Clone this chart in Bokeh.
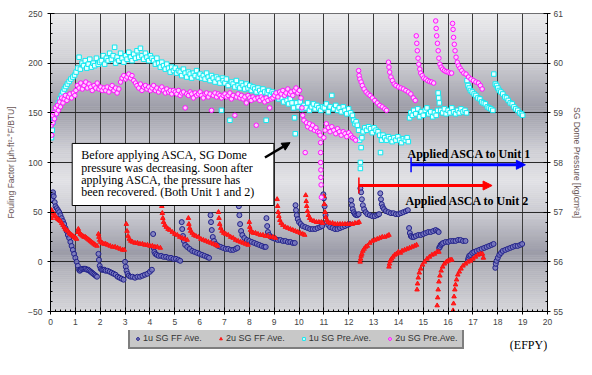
import numpy as np
from bokeh.plotting import figure
from bokeh.layouts import column
from bokeh.models import (Range1d, LinearAxis, SingleIntervalTicker, Legend, LegendItem,
                          Label, BoxAnnotation, Arrow, NormalHead, TeeHead)
from bokeh.embed import file_html
from bokeh.resources import INLINE

# ---------------- data ----------------
# 1u SG FF Ave.  (x = EFPY, y = fouling factor)
u1_ff_x = [0.05,0.08,0.1,0.13,0.17,0.2,0.25,0.3,0.35,0.4,0.45,0.5,0.55,0.6,0.65,0.7,0.75,0.8,0.85,0.9,0.95,1.0,1.05,1.1,1.15,
           1.18,1.22,1.27,1.32,1.37,1.42,1.47,1.52,1.57,1.62,1.67,1.72,1.77,1.82,1.87,
           1.93,1.95,1.98,2.02,2.07,2.12,2.17,2.22,2.3,2.38,2.46,2.54,2.62,2.7,2.78,2.86,2.94,
           3.0,3.03,3.06,3.1,3.15,3.22,3.3,3.4,3.5,3.6,3.7,3.8,3.9,4.0,4.08,
           4.13,4.15,4.18,4.22,4.28,4.35,4.45,4.55,4.65,4.75,4.85,4.95,5.05,5.15,5.22,
           5.28,5.3,5.33,5.37,5.42,5.5,5.6,5.7,5.8,5.9,6.0,6.1,6.2,6.3,6.38,
           6.44,6.46,6.49,6.53,6.58,6.65,6.75,6.85,6.95,7.05,7.15,7.25,7.35,7.45,7.52,
           7.58,7.6,7.63,7.67,7.72,7.8,7.9,8.0,8.1,8.2,8.3,8.4,8.5,8.6,8.66,
           8.69,8.72,8.75,8.8,8.87,8.95,9.05,9.15,9.25,9.35,9.45,9.55,9.65,9.75,9.83,
           9.86,9.88,9.91,9.95,10.0,10.07,10.15,10.25,10.35,10.45,10.55,10.65,10.75,10.85,10.93,
           10.98,11.0,11.03,11.07,11.12,11.18,11.25,11.35,11.45,11.55,11.65,11.75,11.85,11.95,12.03,
           12.1,12.13,12.16,12.2,12.25,12.3,12.35,12.4,
           12.47,12.5,12.53,12.57,12.62,12.68,12.75,12.85,12.95,13.05,13.15,13.22,
           13.27,13.3,13.33,13.37,13.42,13.5,13.6,13.7,13.8,13.9,14.0,14.1,14.2,14.3,14.38,
           14.43,14.46,14.5,14.55,14.62,14.7,14.8,14.9,15.0,15.1,15.2,15.3,15.4,15.5,15.57,
           15.62,15.64,15.67,15.7,15.75,15.8,15.9,16.0,16.1,16.2,16.3,16.4,16.5,16.6,16.7,
           16.8,16.82,16.85,16.9,16.97,17.05,17.15,17.25,17.35,17.45,17.55,17.65,17.75,17.83,
           17.9,17.92,17.95,18.0,18.06,18.13,18.2,18.3,18.4,18.5,18.6,18.7,18.8,18.9,18.98]
u1_ff_y = [63,68,70,66,60,56,54,52,50,47,44,41,38,34,31,27,24,20,16,12,8,4,0,-4,-8,
           -9,-8,-7,-7,-7,-7,-8,-8,-9,-10,-11,-12,-13,-14,-15,
           8,2,-4,-7,-8,-8,-8,-9,-9,-10,-11,-12,-13,-15,-16,-17,-18,
           0,-5,-9,-12,-14,-15,-15,-16,-15,-15,-14,-13,-12,-10,-8,
           28,14,10,8,7,6,6,5,5,4,4,3,3,2,1,
           40,33,26,21,17,15,13,11,10,9,8,7,6,5,4,
           47,40,32,25,21,18,16,15,14,13,13,12,12,13,14,
           56,47,38,31,27,24,22,21,20,19,18,17,16,15,15,
           44,36,30,27,25,24,23,22,22,21,21,20,20,19,19,
           57,52,47,43,40,38,36,35,34,33,33,33,34,35,36,
           68,64,56,47,40,37,35,34,33,33,34,35,36,37,38,
           62,57,53,50,48,47,47,48,
           74,70,63,57,53,50,48,47,46,46,47,48,
           69,63,58,55,53,51,50,49,49,48,48,49,50,51,52,
           34,29,26,25,25,26,27,27,28,29,30,30,31,32,31,
           30,14,15,17,18,19,20,20,21,21,21,22,22,21,21,
           2,4,6,7,9,10,11,12,13,14,15,16,17,18,
           -6,-2,1,4,7,9,11,12,13,14,15,16,16,17,18]

# 2u SG FF Ave.
u2_ff_x = [0.03,0.05,0.08,0.12,0.16,0.2,0.25,0.3,0.35,0.4,0.45,0.5,0.55,0.6,0.65,0.7,0.75,0.8,0.85,0.9,0.95,1.0,1.05,
           1.1,1.12,1.15,1.2,1.25,1.3,1.35,1.4,1.45,1.5,1.55,1.6,1.65,1.7,1.75,1.8,1.87,
           1.93,1.95,1.98,2.02,2.08,2.15,2.22,2.3,2.4,2.5,2.6,2.7,2.8,2.9,2.97,
           3.05,3.08,3.12,3.17,3.23,3.3,3.4,3.5,3.6,3.7,3.8,3.9,4.0,4.1,4.2,4.3,4.42,
           4.48,4.5,4.52,4.55,4.6,4.66,4.73,4.8,4.9,5.0,5.1,5.2,5.3,5.4,5.5,
           5.55,5.57,5.6,5.64,5.7,5.77,5.85,5.95,6.05,6.15,6.25,6.35,6.45,6.55,6.65,6.72,
           6.76,6.78,6.81,6.85,6.9,6.97,7.05,7.15,7.25,7.35,7.45,7.55,7.65,7.75,7.85,7.95,
           8.0,8.02,8.05,8.1,8.17,8.25,8.35,8.45,8.55,8.65,8.75,8.85,8.95,9.05,
           9.12,9.14,9.16,9.19,9.23,9.28,9.35,9.45,9.55,9.65,9.75,9.85,9.95,10.05,10.15,10.23,
           10.27,10.29,10.31,10.34,10.38,10.43,10.5,10.6,10.7,10.8,10.9,10.95,
           11.0,11.02,11.05,11.08,11.12,11.17,11.25,11.35,11.45,11.55,11.65,11.75,11.85,11.95,12.05,12.15,12.25,12.35,12.42,
           12.46,12.48,12.5,12.53,12.57,12.62,12.68,12.75,12.85,12.95,13.05,13.15,13.25,13.35,13.45,13.55,13.62,
           13.62,13.64,13.67,13.72,13.78,13.85,13.92,14.0,14.08,14.15,14.25,14.35,14.45,14.55,14.65,14.73,
           14.75,14.77,14.8,14.84,14.9,14.97,15.05,15.15,15.25,15.35,15.45,15.55,15.63,
           15.56,15.58,15.6,15.63,15.67,15.72,15.78,15.85,15.93,16.0,16.08,16.15,
           16.2,16.22,16.24,16.27,16.3,16.34,16.39,16.45,16.52,16.6,16.7,16.8,16.9,17.0,17.1,17.2,17.3,17.38,17.42]
u2_ff_y = [44,52,50,49,47,46,44,43,42,41,39,37,35,33,32,31,29,28,27,26,25,24,23,
           30,33,30,28,27,26,25,25,24,23,22,21,20,19,18,17,16,
           28,25,22,20,19,18,18,17,16,15,15,14,13,12,12,
           38,31,26,23,21,20,19,19,18,18,17,17,16,16,15,15,14,
           56,49,44,40,37,35,33,32,30,28,27,25,24,23,22,
           44,38,34,31,29,27,26,25,23,22,21,20,19,18,17,16,
           50,44,38,34,31,29,28,27,25,24,22,21,20,19,18,17,
           40,35,32,30,29,29,28,27,27,26,26,25,25,24,
           63,56,50,46,42,39,37,35,34,33,32,31,30,29,28,27,
           67,61,56,51,47,44,42,41,40,40,40,39,
           66,58,50,45,42,40,39,39,38,38,38,38,38,38,38,38,39,39,40,
           0,3,6,8,11,13,15,16,19,21,22,23,24,25,25,26,27,
           -5,-2,1,3,5,7,8,10,9,11,12,13,14,15,16,17,
           -28,-22,-16,-11,-7,-3,0,3,5,7,8,10,10,
           -44,-36,-28,-20,-14,-9,-5,-2,0,1,2,2,
           -49,-42,-35,-28,-23,-18,-13,-10,-7,-4,-2,0,1,3,5,7,8,8,4]

# 1u SG Pre.Ave.  (right axis, kg/cm2a)
u1_pre_x = [0.04,0.07,0.1,0.14,0.18,0.22,0.27,0.32,0.38,0.44,0.5,0.56,0.62,0.68,0.75,0.82,0.9,0.97,
            1.03,1.1,1.15,1.2,1.27,1.33,1.4,1.46,1.52,1.58,1.65,1.72,1.78,1.85,1.92,1.98,
            2.05,2.12,2.18,2.25,2.32,2.38,2.45,2.52,2.58,2.62,2.68,2.75,2.82,2.88,2.95,
            3.02,3.08,3.15,3.22,3.28,3.35,3.42,3.48,3.55,3.62,3.68,3.75,3.82,3.88,3.95,4.02,4.08,
            4.15,4.22,4.28,4.35,4.42,4.48,4.55,4.62,4.68,4.75,4.82,4.88,4.95,5.02,5.08,5.15,
            5.22,5.28,5.35,5.42,5.48,5.55,5.62,5.68,5.75,5.82,5.88,5.95,6.02,6.08,
            6.15,6.22,6.28,6.35,6.42,6.48,6.55,6.62,6.68,6.75,6.82,6.88,6.92,6.95,
            7.02,7.08,7.15,7.22,7.28,7.35,7.42,7.48,7.55,7.62,7.68,7.75,7.82,7.88,7.95,
            8.02,8.08,8.15,8.22,8.28,8.35,8.42,8.48,8.55,8.62,8.68,8.72,8.78,8.85,8.92,8.98,
            9.05,9.12,9.18,9.25,9.32,9.38,9.45,9.52,9.58,9.65,9.72,9.78,9.82,9.85,
            9.9,9.97,10.05,10.12,10.2,10.28,10.35,10.42,10.5,10.58,10.65,10.72,10.8,10.88,10.95,11.02,
            11.1,11.18,11.25,11.32,11.4,11.48,11.55,11.62,11.7,11.78,11.85,11.92,12.0,12.08,12.15,
            12.2,12.25,12.3,12.35,12.4,12.44,12.47,12.47,12.5,12.53,
            12.58,12.65,12.72,12.8,12.88,12.95,13.02,13.1,13.18,13.25,
            13.28,13.32,13.38,13.45,13.52,13.6,13.68,13.75,13.82,13.9,13.98,14.05,14.12,14.2,14.28,14.35,14.4,
            14.45,14.5,14.56,14.62,14.7,14.78,14.85,14.92,15.0,15.08,15.15,15.22,15.3,15.38,15.45,15.52,15.58,
            15.6,15.62,15.65,15.7,15.78,15.85,15.92,16.0,16.08,16.15,16.22,16.3,16.38,16.45,16.52,16.6,16.68,16.74,
            16.76,16.8,16.85,16.9,16.97,17.05,17.12,17.2,17.28,17.35,17.42,17.5,17.58,17.65,17.72,17.8,
            17.84,17.9,17.95,18.0,18.06,18.12,18.2,18.28,18.35,18.42,18.5,18.58,18.65,18.72,18.8,18.88,18.95,19.0]
u1_pre_y = [58.5,58.65,58.8,58.9,58.98,59.05,59.12,59.2,59.28,59.35,59.42,59.48,59.53,59.58,59.63,59.68,59.72,59.76,
            59.82,59.9,60.12,59.88,60.0,59.95,60.05,59.9,59.98,60.08,59.92,60.0,59.95,60.1,59.98,60.02,
            60.05,60.15,59.98,60.1,60.05,60.2,60.08,60.15,60.32,60.0,60.12,60.05,60.2,60.1,60.02,
            60.15,60.08,60.22,60.12,60.05,60.18,60.1,60.25,60.12,60.3,60.15,60.08,60.2,60.12,60.05,60.15,60.1,
            60.05,59.98,60.1,60.0,59.92,60.02,59.95,59.88,59.98,59.9,59.82,59.92,59.85,59.9,59.8,59.85,
            59.82,59.75,59.88,59.8,59.72,59.82,59.78,59.7,59.8,59.75,59.85,59.72,59.78,59.7,
            59.75,59.68,59.8,59.72,59.65,59.75,59.7,59.62,59.72,59.68,59.6,59.05,59.7,59.65,
            59.6,59.68,59.55,58.85,59.62,59.58,59.52,59.65,59.55,59.5,59.6,59.55,59.48,59.58,59.5,
            59.55,59.45,59.52,59.48,59.42,59.5,59.45,59.38,59.48,59.42,58.85,59.4,59.45,59.35,59.42,59.38,
            59.35,59.4,59.28,59.35,59.3,59.22,59.32,59.25,59.18,59.28,59.2,59.1,58.9,58.58,
            59.2,59.12,59.22,59.08,59.15,59.1,59.2,59.05,59.12,59.18,59.08,59.15,59.1,59.05,59.12,59.1,
            59.18,59.02,59.12,59.35,59.08,59.15,59.05,59.1,59.02,59.12,59.05,58.98,59.08,59.0,58.95,
            58.85,58.78,58.82,58.75,58.65,58.45,58.0,57.88,58.3,58.5,
            58.62,58.7,58.65,58.72,58.68,58.6,58.7,58.65,58.62,58.55,
            58.2,58.45,58.55,58.5,58.45,58.52,58.48,58.42,58.5,58.45,58.52,58.45,58.4,58.48,58.45,58.5,58.42,
            58.9,59.0,58.95,59.05,58.98,59.08,58.92,59.02,58.95,59.05,59.1,58.98,59.02,58.92,59.0,58.95,59.05,
            59.4,59.3,59.2,59.05,59.0,59.08,58.98,59.05,59.0,59.1,59.02,58.98,59.05,59.0,59.08,59.02,59.05,59.0,
            59.65,59.55,59.5,59.45,59.42,59.38,59.35,59.3,59.28,59.22,59.2,59.18,59.12,59.1,59.08,59.05,
            59.78,59.58,59.55,59.5,59.45,59.42,59.38,59.32,59.3,59.25,59.2,59.18,59.12,59.08,59.05,59.0,58.98,58.95]

# 2u SG Pre.Ave.
u2_pre_x = [0.03,0.05,0.08,0.1,0.13,0.16,0.2,0.24,0.28,0.32,0.36,0.4,0.45,0.5,0.55,0.6,0.66,0.72,0.78,0.85,0.92,0.98,
            1.02,1.08,1.15,1.22,1.28,1.35,1.42,1.48,1.55,1.62,1.68,1.75,1.82,1.88,1.95,2.02,2.08,
            2.15,2.22,2.28,2.35,2.42,2.48,2.55,2.62,2.68,2.75,
            2.82,2.88,2.95,3.02,3.08,3.15,3.22,3.28,3.35,3.42,
            3.48,3.55,3.62,3.68,3.75,3.82,3.88,3.95,4.02,4.08,4.15,4.22,4.28,4.35,4.42,4.48,4.55,4.62,4.68,4.75,4.82,4.88,4.95,
            5.02,5.08,5.15,5.22,5.28,5.35,5.42,5.48,5.55,5.62,5.68,5.75,5.82,5.88,5.95,6.02,6.08,6.15,6.22,6.28,
            6.35,6.42,6.48,6.55,6.62,6.68,6.75,6.82,6.88,6.95,
            7.02,7.08,7.15,7.22,7.28,7.35,7.42,7.48,7.55,7.62,7.68,7.75,7.82,7.88,7.95,8.02,8.08,8.15,8.22,8.28,
            8.35,8.42,8.48,8.55,8.62,8.68,8.75,8.82,8.88,8.95,
            9.02,9.08,9.15,9.22,9.28,9.35,9.42,9.48,9.55,9.62,9.68,9.75,9.82,9.88,9.95,10.02,10.08,
            10.12,10.15,10.2,10.25,10.3,10.35,10.42,10.48,10.55,10.62,10.68,10.75,10.82,10.85,
            10.87,10.87,10.87,10.88,10.88,10.89,10.9,
            11.0,11.05,11.1,11.18,11.25,11.32,11.4,11.48,11.55,11.62,11.7,11.78,11.85,11.92,12.0,12.08,12.15,12.22,12.28,
            12.4,12.42,12.45,12.5,12.55,12.62,12.7,12.78,12.86,12.95,13.05,13.15,13.25,13.35,13.45,13.52,
            13.6,13.62,13.65,13.7,13.76,13.83,13.9,14.0,14.1,14.2,14.3,14.4,14.5,14.6,14.68,
            14.72,14.74,14.76,14.79,14.82,14.86,14.9,14.96,15.02,15.1,15.18,15.26,15.34,15.42,
            15.5,15.52,15.54,15.57,15.6,15.63,15.67,15.72,15.78,15.85,15.92,16.0,16.08,16.14,
            16.18,16.2,16.22,16.25,16.28,16.32,16.37,16.42,16.48,16.55,16.63,16.72,16.82,16.92,17.02,17.12,17.22,17.3,17.37]
u2_pre_y = [58.75,58.55,58.95,58.8,59.0,58.88,59.1,58.98,59.15,59.05,59.22,59.12,59.3,59.2,59.28,59.35,59.25,59.32,59.38,59.3,59.4,59.35,
            59.45,59.55,59.5,59.6,59.48,59.55,59.62,59.5,59.58,59.52,59.45,59.55,59.5,59.6,59.48,59.52,59.45,
            59.5,59.45,59.52,59.42,59.5,59.55,59.45,59.5,59.4,59.48,
            59.62,59.7,59.75,59.68,59.72,59.78,59.7,59.75,59.65,59.6,
            59.55,59.5,59.58,59.45,59.52,59.55,59.48,59.52,59.45,59.5,59.55,59.45,59.5,59.42,59.48,59.52,59.45,59.4,59.48,59.42,59.45,59.38,59.45,
            59.42,59.38,59.45,59.35,59.4,59.42,59.1,59.38,59.35,59.42,59.38,59.3,59.4,59.35,59.38,59.42,59.35,59.3,59.38,59.4,
            59.32,59.38,59.05,59.35,59.4,59.32,59.38,59.35,59.3,59.35,
            59.38,59.32,59.35,59.4,59.28,59.35,58.95,59.32,59.38,59.3,59.35,59.28,59.32,59.2,59.35,59.3,59.25,59.32,59.28,58.75,
            59.3,59.25,59.32,59.28,59.22,59.3,59.25,59.1,59.28,59.3,
            59.35,59.4,59.32,59.42,59.38,59.45,59.35,59.4,59.48,59.38,59.42,59.35,59.45,59.5,59.4,59.45,59.3,
            59.1,58.95,58.85,58.2,58.8,58.72,58.78,58.68,58.75,58.65,58.7,58.62,58.6,58.55,
            58.4,58.2,58.0,57.85,57.7,57.55,57.3,
            58.5,58.65,58.78,58.7,58.62,58.72,58.65,58.58,58.68,58.62,58.55,58.62,58.58,58.52,58.6,58.55,58.5,58.48,58.45,
            59.85,59.75,59.68,59.62,59.55,59.48,59.42,59.38,59.35,59.3,59.25,59.2,59.15,59.12,59.08,59.05,
            60.02,59.92,59.82,59.72,59.65,59.58,59.55,59.52,59.5,59.48,59.45,59.42,59.38,59.3,59.25,
            60.55,60.4,60.25,60.1,59.98,59.88,59.8,59.75,59.7,59.68,59.65,59.63,59.62,59.6,
            60.85,60.7,60.55,60.4,60.25,60.1,59.98,59.92,59.88,59.85,59.83,59.82,59.8,59.8,
            60.8,60.68,60.52,60.38,60.25,60.12,60.02,59.95,59.9,59.85,59.8,59.78,59.72,59.68,59.65,59.62,59.6,59.55,59.48]

series_names = ["1u SG FF Ave.", "2u SG FF Ave.", "1u SG Pre.Ave.", "2u SG Pre.Ave."]
note_lines = ["Before applying ASCA, SG Dome",
              "pressure was decreasing. Soon after",
              "applying ASCA, the pressure has",
              "been recovered. (Both Unit 1 and 2)"]

for a, b in [(u1_ff_x, u1_ff_y), (u2_ff_x, u2_ff_y), (u1_pre_x, u1_pre_y), (u2_pre_x, u2_pre_y)]:
    assert len(a) == len(b), (len(a), len(b))

# ---------------- styles ----------------
SANS = "Liberation Sans"
SERIF = "Liberation Serif"
styles = [dict(marker="circle", size=5, line_color="#22228a", fill_color="#7a7ac2", fill_alpha=0.8, line_width=1),
          dict(marker="triangle", size=4.5, line_color="#ff1010", fill_color="#ff2020", line_width=1),
          dict(marker="square", size=4.5, line_color="#10e8f0", fill_color="#e8ffff", line_width=1),
          dict(marker="circle", size=4.5, line_color="#ff10ff", fill_color="#ffc8ff", line_width=1)]

# ---------------- main figure ----------------
p = figure(width=592, height=330, x_range=Range1d(0, 20), y_range=Range1d(-50, 250),
           output_backend="svg", toolbar_location=None,
           min_border_left=50, min_border_right=45, min_border_top=13, min_border_bottom=19)
p.extra_y_ranges = {"p": Range1d(55, 61)}
p.border_fill_color = "white"
p.outline_line_color = "black"
p.outline_line_width = 1

# metallic background of the plot area (vertical colour gradient)
bg_stops = [-50, -8.7, 9.4, 46.7, 81.9, 112.1, 154.4, 202.7, 250]
bg_cols = ["#d6d6da", "#b5b5bd", "#9c9ca8", "#c8c8cf", "#e2e2e6", "#cfcfd5", "#9d9da8", "#cfcfd4", "#ececee"]
rgb = np.array([[int(c[i:i + 2], 16) for i in (1, 3, 5)] for c in bg_cols], float)
edges = np.linspace(-50, 250, 151)
mids = (edges[:-1] + edges[1:]) / 2
cols = ["#%02x%02x%02x" % tuple(int(round(np.interp(m, bg_stops, rgb[:, k]))) for k in range(3)) for m in mids]
p.quad(left=0, right=20, bottom=edges[:-1], top=edges[1:], fill_color=cols, line_color=cols,
       line_width=0.6, level="image")

# grids
p.xgrid.ticker = SingleIntervalTicker(interval=1)
p.ygrid.ticker = SingleIntervalTicker(interval=50)
p.xgrid.grid_line_color = "#3c3c3c"
p.ygrid.grid_line_color = "#2a2a2a"
p.grid.grid_line_width = 1

# axes
p.xaxis.ticker = SingleIntervalTicker(interval=1, num_minor_ticks=5)
p.yaxis.ticker = SingleIntervalTicker(interval=50, num_minor_ticks=5)
p.yaxis.axis_label = "Fouling Factor [\u03bch-ft\u00b2-\u00b0F/BTU]"
right = LinearAxis(y_range_name="p", ticker=SingleIntervalTicker(interval=1, num_minor_ticks=5),
                   axis_label="SG Dome Pressure [kg/cm\u00b2a]")
p.add_layout(right, "right")

for ax in [p.xaxis[0], p.yaxis[0], right]:
    ax.axis_line_color = "black"
    ax.major_tick_line_color = "black"
    ax.minor_tick_line_color = "black"
    ax.major_tick_in = 4
    ax.major_tick_out = 3
    ax.minor_tick_in = 2
    ax.minor_tick_out = 0
    ax.major_label_text_font = SANS
    ax.major_label_text_font_size = "8.5px"
    ax.major_label_text_color = "#444444"
    ax.axis_label_text_font = SANS
    ax.axis_label_text_font_size = "8.5px"
    ax.axis_label_text_font_style = "normal"
    ax.axis_label_text_color = "#6a5656"
p.xaxis.major_label_standoff = 4
p.yaxis.major_label_standoff = 5
p.yaxis.axis_label_standoff = 9
right.major_label_standoff = 3
right.axis_label_standoff = 6

# series
p.scatter(u1_ff_x, u1_ff_y, **styles[0])
p.scatter(u2_ff_x, u2_ff_y, **styles[1])
p.scatter(u1_pre_x, u1_pre_y, y_range_name="p", **styles[2])
p.scatter(u2_pre_x, u2_pre_y, y_range_name="p", **styles[3])

# text box with note
p.add_layout(BoxAnnotation(left=0.873, right=8.99, bottom=56.7, top=119.2, fill_color="white",
                           fill_alpha=1, line_color="black", line_width=1, line_alpha=1))
for i, t in enumerate(note_lines):
    p.add_layout(Label(x=1.237, y=107.1 - 12.4 * i, text=t, text_font=SERIF, text_font_size="12px",
                       text_color="black", text_baseline="middle", text_align="left"))
p.add_layout(Arrow(end=NormalHead(size=8, fill_color="black", line_color="black"),
                   x_start=8.63, y_start=105, x_end=9.64, y_end=120,
                   line_color="black", line_width=2.5))

# ASCA arrows
p.add_layout(Arrow(start=TeeHead(size=15, line_color="#0000ff", line_width=1.5),
                   end=NormalHead(size=9, fill_color="#0000ff", line_color="#0000ff"),
                   x_start=14.51, y_start=97.7, x_end=19.11, y_end=97.7,
                   line_color="#0000ff", line_width=3))
p.add_layout(Arrow(start=TeeHead(size=16, line_color="#ff0000", line_width=1.5),
                   end=NormalHead(size=9, fill_color="#ff0000", line_color="#ff0000"),
                   x_start=12.41, y_start=76.8, x_end=17.77, y_end=76.8,
                   line_color="#ff0000", line_width=3))
p.add_layout(Label(x=16.86, y=108.1, text="Applied ASCA to Unit 1", text_font=SERIF,
                   text_font_size="12px", text_font_style="bold", text_align="center",
                   text_baseline="middle", text_color="black"))
p.add_layout(Label(x=16.78, y=60.8, text="Applied ASCA to Unit 2", text_font=SERIF,
                   text_font_size="12px", text_font_style="bold", text_align="center",
                   text_baseline="middle", text_color="black"))

# ---------------- strip below: legend and unit label ----------------
# frame of this strip spans the same pixels as the main plot frame (x 50..547)
q = figure(width=592, height=45, x_range=Range1d(0, 497), y_range=Range1d(0, 45),
           output_backend="svg", toolbar_location=None,
           x_axis_location=None, y_axis_location=None,
           min_border_left=50, min_border_right=45, min_border_top=0, min_border_bottom=0)
q.grid.visible = False
q.outline_line_color = None
q.border_fill_color = "white"
q.background_fill_color = "white"
dummies = [q.scatter([np.nan], [np.nan], **s) for s in styles]
legend = Legend(items=[LegendItem(label=n, renderers=[r]) for n, r in zip(series_names, dummies)],
                orientation="horizontal", location=(78, 26),
                label_text_font=SANS, label_text_font_size="9px", label_text_color="#333333",
                glyph_width=7, glyph_height=7, label_height=9, label_standoff=2,
                spacing=15, padding=4, margin=0,
                background_fill_color="#c8c8c8", background_fill_alpha=1,
                border_line_color="#333333", border_line_width=2)
q.add_layout(legend)
q.add_layout(Label(x=478, y=31, text="(EFPY)", text_font=SERIF, text_font_size="12px",
                   text_align="center", text_baseline="middle", text_color="black"))

open("out.html", "w").write(file_html(column(p, q, spacing=0), INLINE))
